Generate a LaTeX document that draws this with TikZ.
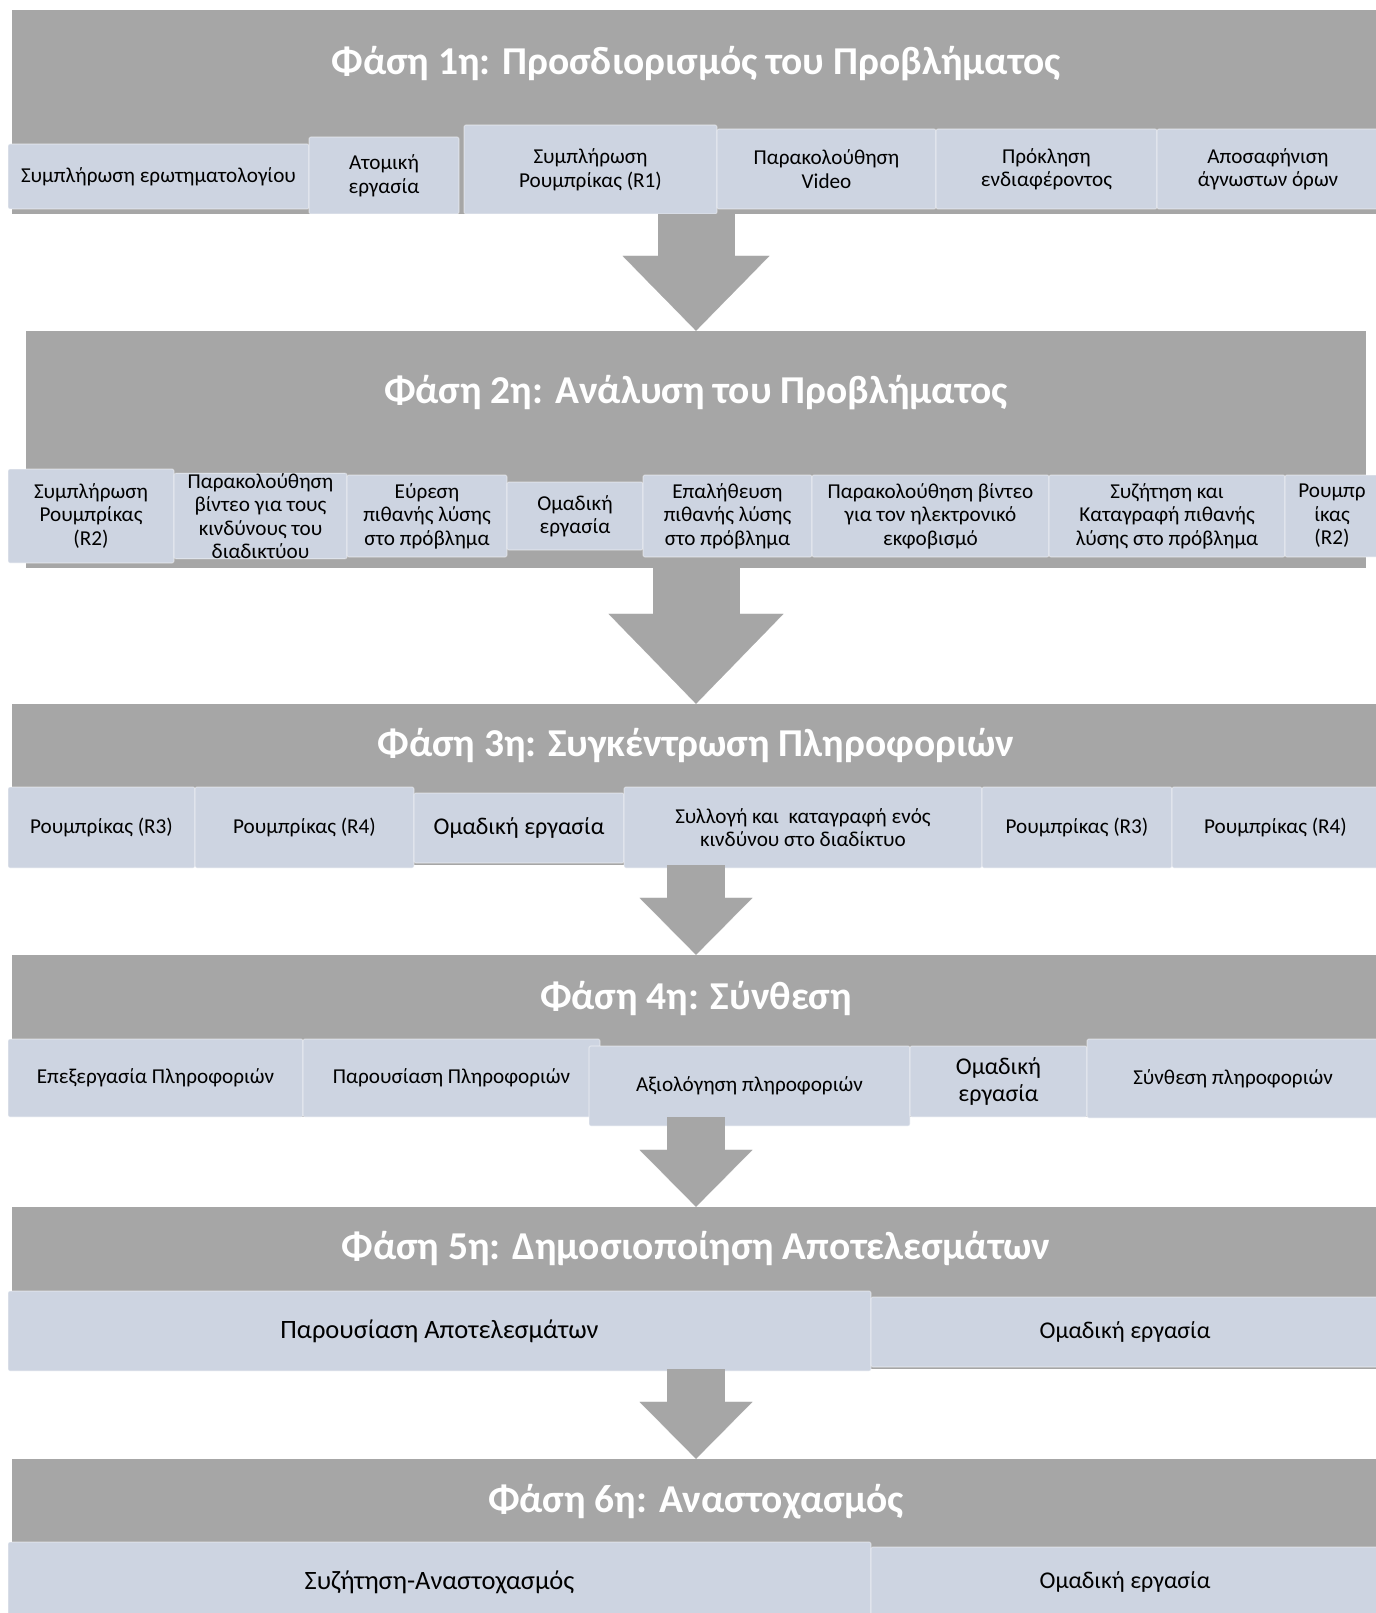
\documentclass[tikz,border=0pt]{standalone}
\usepackage{fontspec}
\setmainfont{Carlito}
\usetikzlibrary{arrows.meta}
\definecolor{bandgray}{RGB}{166,166,166}
\definecolor{boxblue}{RGB}{205,212,225}
\begin{document}
\begin{tikzpicture}[x=1pt,y=-1pt,
    band/.style={fill=bandgray,inner sep=0pt},
    phase/.style={text=white,font=\bfseries\fontsize{39.5}{46}\selectfont},
    task/.style={fill=boxblue,draw=white,draw opacity=0.35,line width=1.2pt,rounded corners=2pt,
        inner sep=0pt,align=center,font=\fontsize{21.2}{23.5}\selectfont},
    bigtask/.style={task,font=\fontsize{24}{27}\selectfont},
    hugetask/.style={task,font=\fontsize{26.5}{30}\selectfont},
    wideflow/.style={color=bandgray,line width=#1},
    flow/.style={color=bandgray,line width=58pt,-{Triangle[width=113pt,length=57pt,line width=0.1pt]}}]
    \useasboundingbox (0,0) rectangle (1375,1613);

    \node[band,minimum width=1368,minimum height=204] (p1) at (696,112) {};
    \node[band,minimum width=1340,minimum height=237] (p2) at (696,449.5) {};
    \node[band,minimum width=1368,minimum height=161] (p3) at (696,784.5) {};
    \node[band,minimum width=1368,minimum height=162] (p4) at (696,1036) {};
    \node[band,minimum width=1368,minimum height=162] (p5) at (696,1288) {};
    \node[band,minimum width=1368,minimum height=181] (p6) at (696,1549.5) {};

    \node[phase] (t1) at (696,64) {Φάση 1η: Προσδιορισμός του Προβλήματος};
    \node[phase] (t2) at (696,393) {Φάση 2η: Ανάλυση του Προβλήματος};
    \node[phase] (t3) at (696,745) {Φάση 3η: Συγκέντρωση Πληροφοριών};
    \node[phase] (t4) at (696,998) {Φάση 4η: Σύνθεση};
    \node[phase] (t5) at (696,1248) {Φάση 5η: Δημοσιοποίηση Αποτελεσμάτων};
    \node[phase] (t6) at (696,1502) {Φάση 6η: Αναστοχασμός};

    % phase 1
    \node[task,minimum width=301,minimum height=65] (s11) at (158.5,176.5) {Συμπλήρωση ερωτηματολογίου};
    \node[task,minimum width=150,minimum height=77] (s12) at (384,175.5) {Ατομική\\εργασία};
    \node[task,minimum width=253,minimum height=89] (s13) at (590.5,169.5) {Συμπλήρωση\\Ρουμπρίκας (R1)};
    \node[task,minimum width=219,minimum height=80] (s14) at (826.5,169) {Παρακολούθηση\\Video};
    \node[task,minimum width=221,minimum height=80] (s15) at (1046.5,169) {Πρόκληση\\ενδιαφέροντος};
    \node[task,minimum width=222,minimum height=80] (s16) at (1268,169) {Αποσαφήνιση\\άγνωστων όρων};

    % phase 2
    \node[task,minimum width=166,minimum height=94] (s21) at (91,516) {Συμπλήρωση\\Ρουμπρίκας\\(R2)};
    \node[task,minimum width=173,minimum height=82] (s22) at (260.5,516) {Παρακολούθηση\\βίντεο για τους\\κινδύνους του\\διαδικτύου};
    \node[task,minimum width=160,minimum height=82] (s23) at (427,516) {Εύρεση\\πιθανής λύσης\\στο πρόβλημα};
    \node[task,minimum width=136,minimum height=68] (s24) at (575,516) {Ομαδική\\εργασία};
    \node[task,minimum width=169,minimum height=82] (s25) at (727.5,516) {Επαλήθευση\\πιθανής λύσης\\στο πρόβλημα};
    \node[task,minimum width=237,minimum height=82] (s26) at (930.5,516) {Παρακολούθηση βίντεο\\για τον ηλεκτρονικό\\εκφοβισμό};
    \node[task,minimum width=236,minimum height=82] (s27) at (1167,516) {Συζήτηση και\\Καταγραφή πιθανής\\λύσης στο πρόβλημα};
    \node[task,minimum width=94,minimum height=82] (s28) at (1332,516) {Ρουμπρ\\ίκας\\(R2)};

    % phase 3
    \node[task,minimum width=187,minimum height=81] (s31) at (101.5,827.5) {Ρουμπρίκας (R3)};
    \node[task,minimum width=219,minimum height=81] (s32) at (304.5,827.5) {Ρουμπρίκας (R4)};
    \node[bigtask,minimum width=210,minimum height=70] (s33) at (519,828) {Ομαδική εργασία};
    \node[task,minimum width=358,minimum height=81] (s34) at (803,827.5) {Συλλογή και\ \ καταγραφή ενός\\κινδύνου στο διαδίκτυο};
    \node[task,minimum width=190,minimum height=81] (s35) at (1077,827.5) {Ρουμπρίκας (R3)};
    \node[task,minimum width=207,minimum height=81] (s36) at (1275.5,827.5) {Ρουμπρίκας (R4)};

    % phase 4
    \node[task,minimum width=295,minimum height=78] (s41) at (155.5,1078) {Επεξεργασία Πληροφοριών};
    \node[task,minimum width=297,minimum height=78] (s42) at (451.5,1078) {Παρουσίαση Πληροφοριών};
    \node[task,minimum width=321,minimum height=80] (s43) at (749.5,1086) {Αξιολόγηση πληροφοριών};
    \node[bigtask,minimum width=177,minimum height=71] (s44) at (998.5,1081.5) {Ομαδική\\εργασία};
    \node[task,minimum width=292,minimum height=79] (s45) at (1233,1078.5) {Σύνθεση πληροφοριών};

    % phase 5
    \node[hugetask,minimum width=863,minimum height=80] (s51) at (439.5,1331) {Παρουσίαση Αποτελεσμάτων};
    \node[bigtask,minimum width=508,minimum height=70] (s52) at (1125,1332) {Ομαδική εργασία};

    % phase 6
    \node[hugetask,minimum width=863,minimum height=80] (s61) at (439.5,1582) {Συζήτηση-Αναστοχασμός};
    \node[bigtask,minimum width=508,minimum height=70] (s62) at (1125,1582) {Ομαδική εργασία};

    \path[wideflow=77pt,-{Triangle[width=147pt,length=75pt,line width=0.1pt]}] (p1.south) edge (p2.north);
    \path[wideflow=87pt,-{Triangle[width=175pt,length=90pt,line width=0.1pt]}] (p2.south) edge (p3.north);
    \path[flow] (p3.south) edge (p4.north);
    \path[flow] (p4.south) edge (p5.north);
    \path[flow] (p5.south) edge (p6.north);
\end{tikzpicture}
\end{document}
